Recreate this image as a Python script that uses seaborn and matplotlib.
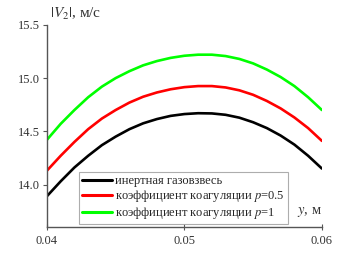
import numpy as np
import pandas as pd
import matplotlib
matplotlib.use("Agg")
import matplotlib.pyplot as plt
import seaborn as sns

# y, m
y_pos = [0.040, 0.041, 0.042, 0.043, 0.044, 0.045, 0.046, 0.047, 0.048, 0.049, 0.050,
         0.051, 0.052, 0.053, 0.054, 0.055, 0.056, 0.057, 0.058, 0.059, 0.060]

# |V2|, m/s
v_inert = [13.89, 14.03, 14.16, 14.27, 14.37, 14.45, 14.52, 14.575, 14.615, 14.645, 14.662,
           14.67, 14.668, 14.655, 14.628, 14.585, 14.53, 14.46, 14.375, 14.27, 14.15]
v_p05 = [14.13, 14.27, 14.40, 14.52, 14.62, 14.70, 14.77, 14.825, 14.865, 14.895, 14.915,
         14.925, 14.925, 14.912, 14.885, 14.843, 14.785, 14.715, 14.63, 14.53, 14.41]
v_p1 = [14.42, 14.57, 14.70, 14.82, 14.92, 15.00, 15.065, 15.12, 15.16, 15.19, 15.21,
        15.22, 15.22, 15.207, 15.18, 15.138, 15.08, 15.01, 14.925, 14.82, 14.70]

labels = ["инертная газовзвесь",
          "коэффициент коагуляции $p$=0.5",
          "коэффициент коагуляции $p$=1"]
colors = ["#000000", "#ff0000", "#00ff00"]

df = pd.concat([
    pd.DataFrame({"y": y_pos, "v": v, "case": lab})
    for v, lab in zip([v_inert, v_p05, v_p1], labels)
])

sns.set_style("ticks")
plt.rcParams["font.family"] = ["Liberation Serif", "DejaVu Serif"]
plt.rcParams["mathtext.fontset"] = "stix"

fig = plt.figure(figsize=(3.45, 2.54), dpi=100)
ax = fig.add_axes([0.136, 0.106, 0.797, 0.796])

sns.lineplot(data=df, x="y", y="v", hue="case", palette=colors,
             hue_order=labels, linewidth=1.9, ax=ax, legend=True)

ax.set_xlim(0.04, 0.06)
ax.set_ylim(13.6, 15.5)
ax.set_xticks([0.04, 0.05, 0.06])
ax.set_xticklabels(["0.04", "0.05", "0.06"])
ax.set_yticks([14.0, 14.5, 15.0, 15.5])
ax.set_yticklabels(["14.0", "14.5", "15.0", "15.5"])
ax.set_xlabel("")
ax.set_ylabel("")

for s in ["top", "right"]:
    ax.spines[s].set_visible(False)
for s in ["left", "bottom"]:
    ax.spines[s].set_color("#555555")
    ax.spines[s].set_linewidth(1.0)
ax.tick_params(axis="y", direction="out", length=3, width=0.8, color="#555555",
               labelsize=9, labelcolor="#333333", pad=2)
ax.tick_params(axis="x", direction="inout", length=4, width=0.8, color="#555555",
               labelsize=9, labelcolor="#333333", pad=4)

fig.text(0.145, 0.93, "$|V_2|$, м/с", fontsize=11, color="#333333")
ax.text(0.0582, 13.72, "$y$, м", fontsize=10.5, color="#333333")

leg = ax.legend(loc="lower left", bbox_to_anchor=(0.115, 0.015), fontsize=9,
                frameon=True, fancybox=False, handlelength=2.4, handletextpad=0.25,
                borderpad=0.25, labelspacing=0.08, borderaxespad=0.0)
leg.get_frame().set_edgecolor("#999999")
leg.get_frame().set_linewidth(0.8)
for line in leg.get_lines():
    line.set_linewidth(2.2)

fig.savefig("out.png", dpi=100)
